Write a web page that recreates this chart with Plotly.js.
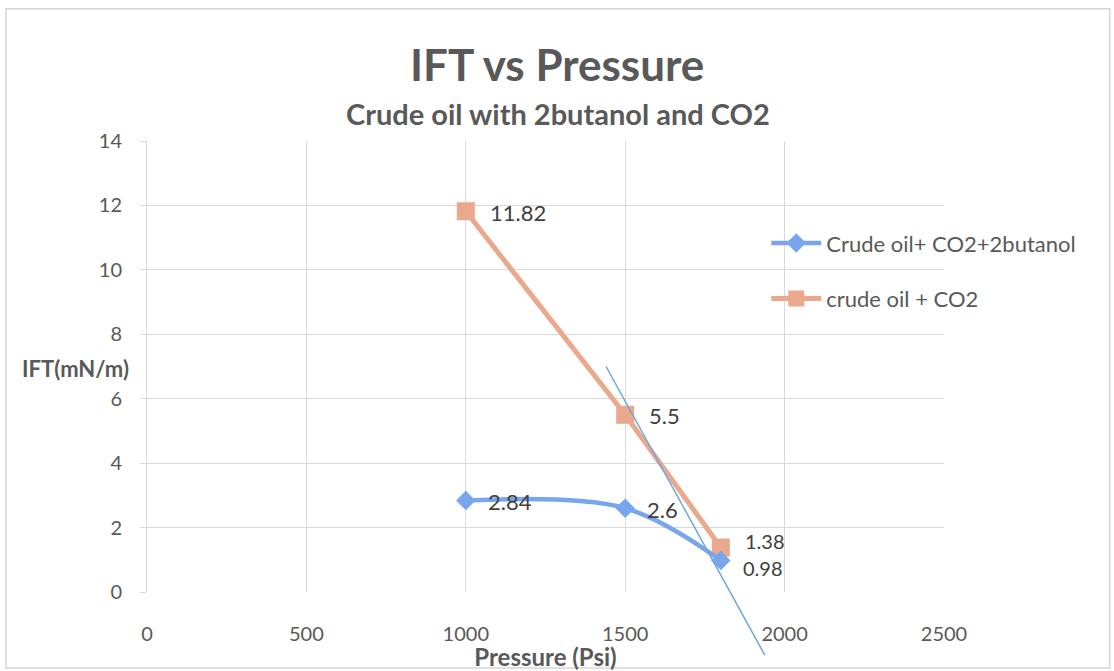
<!DOCTYPE html>
<html><head><meta charset="utf-8">
<script src="https://cdn.plot.ly/plotly-3.0.1.min.js"></script>
<style>html,body{margin:0;padding:0;background:#fff}#c{width:1114px;height:671px}</style>
</head><body><div id="c"></div>
<script>
const pressure = [1000, 1500, 1800];
const iftButanol = [2.84, 2.6, 0.98];
const iftCO2 = [11.82, 5.5, 1.38];
const seriesNames = ["Crude oil+ CO2+2butanol", "crude oil + CO2"];
const xTicks = [0, 500, 1000, 1500, 2000, 2500];
const yTicks = [0, 2, 4, 6, 8, 10, 12, 14];
// hand-drawn tangent line endpoints [pressure, IFT]
const tangentX = [1440, 1938];
const tangentY = [7.0, -1.96];

const yMin = 0, yMax = 14;
const font = "Lato, 'Open Sans', sans-serif";
const grey = "#595959";
const labelColor = "#404040";

const traces = [
  {x: pressure, y: iftCO2, name: seriesNames[1], legendgroup: "b", legendrank: 2, mode: "lines+markers",
   line: {color: "#eaa98d", width: 5}, marker: {symbol: "square", size: 18, color: "#eaa98d"}},
  {x: pressure, y: iftButanol, name: seriesNames[0], legendgroup: "a", legendrank: 1, mode: "lines+markers",
   line: {color: "#78a6ee", width: 4.5, shape: "spline"}, marker: {symbol: "diamond", size: 15, color: "#78a6ee"}}
];

const labelAnns = [];
pressure.forEach((p, i) => {
  const last = i === pressure.length - 1;
  labelAnns.push({x: p, y: iftCO2[i], xref: "x", yref: "y", text: String(iftCO2[i]), showarrow: false,
    xanchor: "left", yanchor: "middle", xshift: 22, yshift: last ? 7 : -1,
    font: {size: last ? 20 : 22, color: labelColor, family: font}});
  labelAnns.push({x: p, y: iftButanol[i], xref: "x", yref: "y", text: String(iftButanol[i]), showarrow: false,
    xanchor: "left", yanchor: "middle", xshift: 20, yshift: last ? -8 : -1,
    font: {size: last ? 20 : 22, color: labelColor, family: font}});
});

const layout = {
  width: 1114, height: 671,
  margin: {l: 147, r: 170, t: 141, b: 79},
  paper_bgcolor: "#fff", plot_bgcolor: "#fff",
  font: {family: font, color: grey},
  showlegend: true,
  legend: {x: 0.777, xanchor: "left", y: 0.82, yanchor: "top", traceorder: "grouped",
           font: {size: 22, color: grey, family: font}, itemwidth: 50, tracegroupgap: 24,
           bgcolor: "rgba(0,0,0,0)"},
  xaxis: {range: [0, 2500], tickvals: xTicks, showgrid: true, gridcolor: "#d9d9d9", gridwidth: 1,
          zeroline: false, showline: false, ticks: "", ticklabelstandoff: 28,
          tickfont: {size: 20, color: grey, family: font},
          title: {text: "<b>Pressure (Psi)</b>", font: {size: 24, color: grey, family: font}, standoff: 0}},
  yaxis: {range: [yMin, yMax], tickvals: yTicks, showgrid: true, gridcolor: "#d9d9d9", gridwidth: 1,
          zeroline: false, showline: true, linecolor: "#d9d9d9", ticks: "outside", ticklen: 6, tickcolor: "#d9d9d9",
          ticklabelstandoff: 14, tickfont: {size: 20, color: grey, family: font}},
  annotations: [
    {text: "<b>IFT vs Pressure</b>", xref: "paper", yref: "paper", x: 0.5, xshift: 11, y: 1, yshift: 77,
     showarrow: false, font: {size: 44, color: grey, family: font}, xanchor: "center", yanchor: "middle"},
    {text: "<b>Crude oil with 2butanol and CO2</b>", xref: "paper", yref: "paper", x: 0.5, xshift: 12, y: 1, yshift: 28,
     showarrow: false, font: {size: 29, color: grey, family: font}, xanchor: "center", yanchor: "middle"},
    {text: "<b>IFT(mN/m)</b>", xref: "paper", yref: "paper", x: 0, xshift: -72, y: (7 - yMin) / (yMax - yMin), yshift: -2,
     showarrow: false, font: {size: 22, color: grey, family: font}, xanchor: "center", yanchor: "middle"}
  ].concat(labelAnns),
  shapes: [
    {type: "line", xref: "x", yref: "paper",
     x0: tangentX[0], x1: tangentX[1],
     y0: (tangentY[0] - yMin) / (yMax - yMin), y1: (tangentY[1] - yMin) / (yMax - yMin),
     line: {color: "#6fa8dc", width: 1.5}, layer: "above"},
    {type: "rect", xref: "paper", yref: "paper", x0: -0.177, x1: 1.208, y0: -0.1685, y1: 1.293,
     line: {color: "#d6d6d6", width: 1.5}, layer: "below"}
  ]
};

Plotly.newPlot("c", traces, layout, {displayModeBar: false, staticPlot: true});
</script></body></html>
